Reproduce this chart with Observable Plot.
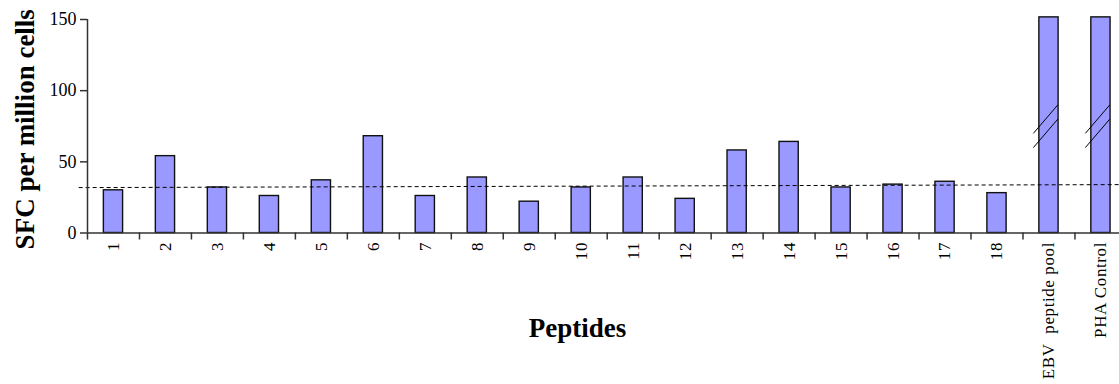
<!DOCTYPE html>
<html>
<head>
<meta charset="utf-8">
<script src="https://cdn.jsdelivr.net/npm/d3@7"></script>
<script src="https://cdn.jsdelivr.net/npm/@observablehq/plot@0.6"></script>
<style>
  html, body { margin: 0; padding: 0; background: #fff; overflow: hidden; }
  #chart svg { display: block; }
  #chart g[aria-label="x-axis tick label"] text { letter-spacing: 0.6px; }
</style>
</head>
<body>
<div id="chart"></div>
<script>
// ---- data ----
const peptides = ["1","2","3","4","5","6","7","8","9","10","11","12","13","14","15","16","17","18","EBV\u00a0 peptide pool","PHA Control"];
const sfc = [30, 54, 32, 26, 37, 68, 26, 39, 22, 32, 39, 24, 58, 64, 32, 34, 36, 28];
// EBV pool and PHA control are off-scale (broken bars); shown capped just above the axis maximum
const controlSfc = [151.5, 151.5];
const yTicks = [0, 50, 100, 150];
const cutoff = [31.9, 34];          // dashed background line, left end / right end
const breakLows = [60, 70];         // lower ends of the two break slashes on off-scale bars

const values = sfc.concat(controlSfc);
const rows = peptides.map((label, i) => ({label, pos: i + 1, value: values[i], offscale: i >= sfc.length}));
const breaks = rows.filter(d => d.offscale).flatMap(d => breakLows.map(lo => ({pos: d.pos, lo})));
const xDomain = [0.5, 20.357];
const cutoffRow = [{x1: xDomain[0] - 0.17, x2: xDomain[1], y1: cutoff[0], y2: cutoff[1]}];

const axisColor = "#333";

const chart = Plot.plot({
  width: 1119,
  height: 384,
  marginLeft: 87,
  marginRight: 0,
  marginTop: 19,
  marginBottom: 151.5,
  x: {type: "linear", domain: xDomain, axis: null},
  y: {domain: [0, 150], axis: null},
  style: {fontFamily: "'Liberation Serif', 'Times New Roman', serif", fontSize: "18px", color: "#000", background: "#fff"},
  marks: [
    Plot.rectY(rows, {x1: d => d.pos - 0.185, x2: d => d.pos + 0.185, y1: 0, y2: "value", fill: "#9999ff", stroke: "#111", strokeWidth: 1.4}),
    Plot.link(breaks, {x1: d => d.pos - 0.3, x2: d => d.pos + 0.17, y1: d => d.lo, y2: d => d.lo + 20, stroke: "#000", strokeWidth: 1}),
    Plot.link(cutoffRow, {x1: "x1", x2: "x2", y1: "y1", y2: "y2", stroke: "#000", strokeWidth: 1, strokeDasharray: "4,3"}),
    Plot.ruleY([0], {stroke: axisColor, strokeWidth: 1.5}),
    Plot.ruleX([xDomain[0]], {y1: 0, y2: 150, stroke: axisColor, strokeWidth: 1.5}),
    Plot.axisY(yTicks, {tickSize: 7, tickPadding: 4, stroke: axisColor, strokeWidth: 1.5, fontSize: 18, label: null}),
    Plot.axisX(rows.map(d => d.pos - 0.5), {tickSize: 7, tickFormat: () => "", stroke: axisColor, strokeWidth: 1.5, label: null}),
    Plot.axisX(rows.map(d => d.pos), {tickSize: 0, tickPadding: 9, tickRotate: -90, tickFormat: p => peptides[p - 1], fontSize: 17, label: null}),
    Plot.text(["SFC per million cells"], {frameAnchor: "left", dx: -54, dy: 3, rotate: -90, lineAnchor: "bottom", textAnchor: "middle", fontWeight: "bold", fontSize: 27}),
    Plot.text(["Peptides"], {frameAnchor: "bottom", dx: -26, dy: 103.5, lineAnchor: "bottom", textAnchor: "middle", fontWeight: "bold", fontSize: 27})
  ]
});
document.getElementById("chart").appendChild(chart);
</script>
</body>
</html>
